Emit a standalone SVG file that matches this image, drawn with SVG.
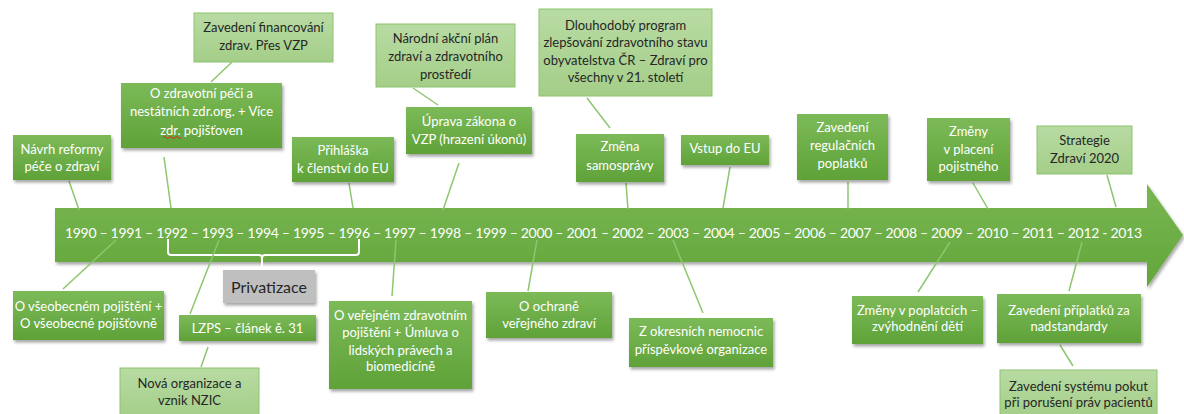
<svg xmlns="http://www.w3.org/2000/svg" width="1184" height="414" viewBox="0 0 1184 414">
<style>
.dk{fill:url(#gDark);filter:url(#sh)}
.lt{fill:url(#gLight);stroke:#8cc46c;stroke-width:1}
.gr{fill:#bfbfbf;filter:url(#sh)}
text{font-family:Lato,"Liberation Sans",Arial,sans-serif;font-size:13px;text-anchor:middle}
.tw{fill:#ffffff}
.tb{fill:#262626}
.yr{font-size:14px}
.pv{font-size:16px}
#connectors line{stroke:#8dc66f;stroke-width:1.5}
</style>
<defs>
<linearGradient id="gDark" x1="0" y1="0" x2="0" y2="1">
<stop offset="0" stop-color="#7cba58"/>
<stop offset="1" stop-color="#5fa238"/>
</linearGradient>
<linearGradient id="gLight" x1="0" y1="0" x2="0" y2="1">
<stop offset="0" stop-color="#b8dba3"/>
<stop offset="1" stop-color="#a4ce88"/>
</linearGradient>
<linearGradient id="gArrow" x1="0" y1="0" x2="0" y2="1">
<stop offset="0" stop-color="#79b652"/>
<stop offset="1" stop-color="#62a63a"/>
</linearGradient>
<filter id="sh" x="-10%" y="-20%" width="130%" height="150%">
<feDropShadow dx="1.5" dy="2.5" stdDeviation="1.5" flood-color="#000" flood-opacity="0.35"/>
</filter>
</defs>

<g id="timeline">
<path d="M55,208 H1147 V184 L1183,235 L1147,287 V262 H55 Z" fill="url(#gArrow)" filter="url(#sh)"/>
<text class="tw yr" x="603.5" y="237.5" textLength="1077" lengthAdjust="spacing">1990 – 1991 – 1992 – 1993 – 1994 – 1995 – 1996 – 1997 – 1998 – 1999 – 2000 – 2001 – 2002 – 2003 – 2004 – 2005 – 2006 – 2007 – 2008 – 2009 – 2010 – 2011 – 2012 - 2013</text>
<path d="M168,239 V252 Q168,255 171,255 H259 Q262,255 262,258 Q262,255 265,255 H356 Q359,255 359,252 V239 M262,255 V270" fill="none" stroke="#ffffff" stroke-width="2"/>
</g>

<g id="connectors">
<line x1="69" y1="181" x2="79" y2="210"/>
<line x1="232" y1="62" x2="211" y2="82"/>
<line x1="164" y1="157" x2="171" y2="208"/>
<line x1="349" y1="183" x2="353" y2="208"/>
<line x1="413" y1="88" x2="438" y2="105"/>
<line x1="459" y1="163" x2="443" y2="210"/>
<line x1="587" y1="98" x2="610" y2="128"/>
<line x1="626" y1="183" x2="628" y2="209"/>
<line x1="730" y1="167" x2="723" y2="208"/>
<line x1="848" y1="182" x2="848" y2="209"/>
<line x1="973" y1="183" x2="988" y2="209"/>
<line x1="1107" y1="175" x2="1116" y2="207"/>
<line x1="63" y1="289" x2="116" y2="240"/>
<line x1="190" y1="314" x2="219" y2="240"/>
<line x1="201" y1="367" x2="208" y2="347"/>
<line x1="392" y1="296" x2="396" y2="240"/>
<line x1="528" y1="291" x2="537" y2="240"/>
<line x1="703" y1="313" x2="673" y2="240"/>
<line x1="918" y1="292" x2="950" y2="242"/>
<line x1="1069" y1="291" x2="1082" y2="242"/>
<line x1="1060" y1="345" x2="1073" y2="366"/>
</g>

<g id="n-navrh"><rect class="dk" x="13" y="135" width="98" height="45"/>
<text class="tw" x="62" y="153.5">Návrh reformy</text><text class="tw" x="62" y="171">péče o zdraví</text></g>

<g id="n-financovani"><rect class="lt" x="194" y="13" width="139" height="49"/>
<text class="tb" x="263.5" y="32">Zavedení financování</text><text class="tb" x="263.5" y="50">zdrav. Přes VZP</text></g>

<g id="n-zdravotni-peci"><rect class="dk" x="121" y="83" width="161" height="65"/>
<text class="tw" x="201.5" y="98">O zdravotní péči a</text><text class="tw" x="201.5" y="116">nestátních zdr.org. + Více</text><text class="tw" x="201.5" y="134.5">zdr. pojišťoven</text>
<path d="M163,137.5 q1.5,-2 3,0 t3,0 t3,0 t3,0 t3,0 t3,0" fill="none" stroke="#e02020" stroke-width="1"/></g>

<g id="n-prihlaska"><rect class="dk" x="292" y="137" width="102" height="45"/>
<text class="tw" x="343" y="155">Přihláška</text><text class="tw" x="343" y="173">k členství do EU</text></g>

<g id="n-narodni"><rect class="lt" x="376" y="24" width="139" height="63"/>
<text class="tb" x="445.5" y="43">Národní akční plán</text><text class="tb" x="445.5" y="60.5">zdraví a zdravotního</text><text class="tb" x="445.5" y="78.5">prostředí</text></g>

<g id="n-uprava"><rect class="dk" x="406" y="107" width="126" height="47"/>
<text class="tw" x="469" y="126">Úprava zákona o</text><text class="tw" x="469" y="144">VZP (hrazení úkonů)</text></g>

<g id="n-dlouhodoby"><rect class="lt" x="539" y="9" width="173" height="87"/>
<text class="tb" x="625.5" y="29.5">Dlouhodobý program</text><text class="tb" x="625.5" y="47">zlepšování zdravotního stavu</text><text class="tb" x="625.5" y="65">obyvatelstva ČR – Zdraví pro</text><text class="tb" x="625.5" y="82">všechny v 21. století</text></g>

<g id="n-zmena"><rect class="dk" x="576" y="134" width="88" height="48"/>
<text class="tw" x="620" y="151">Změna</text><text class="tw" x="620" y="169.5">samosprávy</text></g>

<g id="n-vstup"><rect class="dk" x="681" y="135" width="88" height="30"/>
<text class="tw" x="725" y="153">Vstup do EU</text></g>

<g id="n-regulacni"><rect class="dk" x="797" y="114" width="91" height="66"/>
<text class="tw" x="842.5" y="132">Zavedení</text><text class="tw" x="842.5" y="150">regulačních</text><text class="tw" x="842.5" y="168">poplatků</text></g>

<g id="n-placeni"><rect class="dk" x="927" y="118" width="83" height="63"/>
<text class="tw" x="968.5" y="136">Změny</text><text class="tw" x="968.5" y="154">v placení</text><text class="tw" x="968.5" y="171">pojistného</text></g>

<g id="n-strategie"><rect class="lt" x="1037" y="126" width="95" height="48"/>
<text class="tb" x="1084.5" y="145">Strategie</text><text class="tb" x="1084.5" y="163">Zdraví 2020</text></g>

<g id="n-vseobecnem"><rect class="dk" x="13" y="291" width="151" height="49"/>
<text class="tw" x="88.5" y="310.5">O všeobecném pojištění +</text><text class="tw" x="88.5" y="328">O všeobecné pojišťovně</text></g>

<g id="n-lzps"><rect class="dk" x="179" y="315" width="137" height="26"/>
<text class="tw" x="247.5" y="333">LZPS – článek ě. 31</text></g>

<g id="n-nzic"><rect class="lt" x="120" y="368" width="139" height="50"/>
<text class="tb" x="189.5" y="387.5">Nová organizace a</text><text class="tb" x="189.5" y="404.5">vznik NZIC</text></g>

<g id="n-privatizace"><rect class="gr" x="223" y="270" width="92" height="33"/>
<text class="tb pv" x="269" y="293">Privatizace</text></g>

<g id="n-verejnem"><rect class="dk" x="329" y="301" width="143" height="88"/>
<text class="tw" x="400.5" y="319.5">O veřejném zdravotním</text><text class="tw" x="400.5" y="337">pojištění + Úmluva o</text><text class="tw" x="400.5" y="354.5">lidských právech a</text><text class="tw" x="400.5" y="370.5">biomedicíně</text></g>

<g id="n-ochrane"><rect class="dk" x="486" y="292" width="126" height="46"/>
<text class="tw" x="549" y="310.5">O ochraně</text><text class="tw" x="549" y="328">veřejného zdraví</text></g>

<g id="n-okresnich"><rect class="dk" x="629" y="318" width="144" height="49"/>
<text class="tw" x="701" y="336">Z okresních nemocnic</text><text class="tw" x="701" y="354">příspěvkové organizace</text></g>

<g id="n-poplatcich"><rect class="dk" x="852" y="296" width="131" height="48"/>
<text class="tw" x="917.5" y="315">Změny v poplatcích –</text><text class="tw" x="917.5" y="331">zvýhodnění dětí</text></g>

<g id="n-priplatku"><rect class="dk" x="997" y="294" width="144" height="49"/>
<text class="tw" x="1069" y="315">Zavedení příplatků za</text><text class="tw" x="1069" y="331">nadstandardy</text></g>

<g id="n-pokut"><rect class="lt" x="1000" y="370" width="157" height="48"/>
<text class="tb" x="1078.5" y="390.5">Zavedení systému pokut</text><text class="tb" x="1078.5" y="406.5">při porušení práv pacientů</text></g>
</svg>
